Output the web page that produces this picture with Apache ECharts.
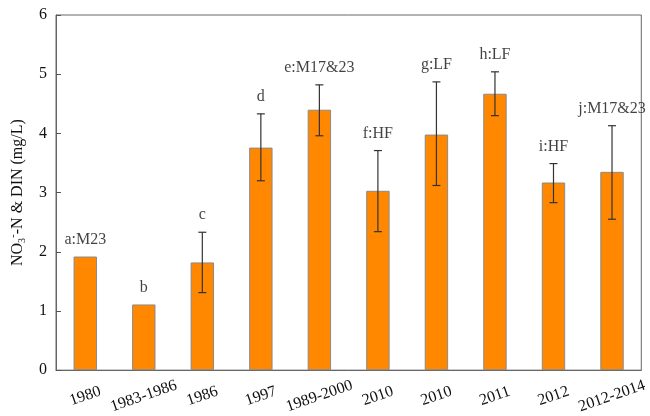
<!DOCTYPE html>
<html>
<head>
<meta charset="utf-8">
<script src="https://cdn.jsdelivr.net/npm/echarts@6/dist/echarts.min.js"></script>
<style>
  html,body{margin:0;padding:0;background:#fff;}
  #chart{width:650px;height:416px;}
</style>
</head>
<body>
<div id="chart"></div>
<script>
// sampling periods / sources
var categories = ['1980','1983-1986','1986','1997','1989-2000','2010','2010','2011','2012','2012-2014'];
// mean NO3-N & DIN (mg/L)
var values = [1.92, 1.11, 1.82, 3.76, 4.40, 3.03, 3.98, 4.67, 3.17, 3.35];
// error bar ends (null = no error bar)
var errLow  = [null, null, 1.31, 3.20, 3.96, 2.34, 3.12, 4.30, 2.83, 2.55];
var errHigh = [null, null, 2.33, 4.33, 4.82, 3.71, 4.87, 5.04, 3.49, 4.13];
var notes = ['a:M23','b','c','d','e:M17&23','f:HF','g:LF','h:LF','i:HF','j:M17&23'];
var yTicks = [0, 1, 2, 3, 4, 5, 6];

var font = 'Liberation Serif, Times New Roman, serif';

var errData = [];
var noteData = [];
for (var i = 0; i < values.length; i++) {
	if (errLow[i] != null) errData.push([i, errLow[i], errHigh[i]]);
	var noteY = errHigh[i] != null ? errHigh[i] : values[i];
	noteData.push({value: [i, noteY], label: {formatter: notes[i]}});
}

var myChart = echarts.init(document.getElementById('chart'));
var option = {
	animation: false,
	grid: {
		left: 53, right: 7, top: 15, bottom: 45,
		show: true, borderColor: '#666', borderWidth: 1
	},
	xAxis: {
		type: 'category',
		data: categories,
		axisLine: {lineStyle: {color: '#666'}},
		axisTick: {inside: true, alignWithLabel: true, length: 6, lineStyle: {color: '#555'}},
		axisLabel: {
			rotate: 19, align: 'center', verticalAlign: 'middle', margin: 26,
			fontFamily: font, fontSize: 16, color: '#111', interval: 0
		}
	},
	yAxis: {
		type: 'value',
		min: yTicks[0], max: yTicks[yTicks.length - 1], interval: 1,
		splitLine: {show: false},
		axisLine: {show: true, lineStyle: {color: '#666'}},
		axisTick: {show: true, inside: true, length: 5, lineStyle: {color: '#555'}},
		axisLabel: {fontFamily: font, fontSize: 16, color: '#111', margin: 9},
		name: 'NO{sub|3}{sup|-}-N & DIN (mg/L)',
		nameLocation: 'middle',
		nameGap: 29,
		nameTextStyle: {
			fontFamily: font, fontSize: 16, color: '#111',
			rich: {
				sub: {fontFamily: font, fontSize: 10, color: '#111', verticalAlign: 'bottom', padding: [6, 0, 0, 0]},
				sup: {fontFamily: font, fontSize: 11, color: '#111', verticalAlign: 'top', padding: [0, 0, 8, 0]}
			}
		}
	},
	series: [
		{
			type: 'bar',
			data: values,
			barWidth: '40%',
			itemStyle: {color: '#FF8800', borderColor: '#8a8a8a', borderWidth: 1}
		},
		{
			type: 'custom',
			data: errData,
			z: 5,
			renderItem: function (params, api) {
				var x = api.value(0);
				var lo = api.coord([x, api.value(1)]);
				var hi = api.coord([x, api.value(2)]);
				var w = 4;
				var st = {stroke: '#333', lineWidth: 1.2};
				return {
					type: 'group',
					children: [
						{type: 'line', shape: {x1: lo[0], y1: lo[1], x2: hi[0], y2: hi[1]}, style: st},
						{type: 'line', shape: {x1: lo[0] - w, y1: lo[1], x2: lo[0] + w, y2: lo[1]}, style: st},
						{type: 'line', shape: {x1: hi[0] - w, y1: hi[1], x2: hi[0] + w, y2: hi[1]}, style: st}
					]
				};
			}
		},
		{
			type: 'scatter',
			data: noteData,
			symbolSize: 0,
			silent: true,
			label: {
				show: true, position: 'top', distance: 9,
				fontFamily: font, fontSize: 16, color: '#111'
			}
		}
	]
};
myChart.setOption(option);
</script>
</body>
</html>
